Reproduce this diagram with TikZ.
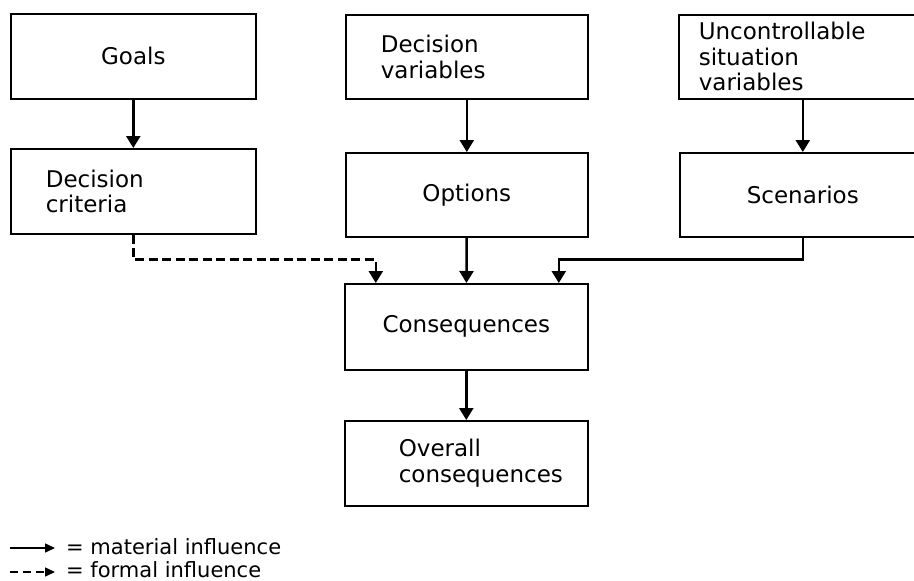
\documentclass[tikz,border=0pt]{standalone}
\usepackage{fontspec}
\setmainfont{DejaVu Sans}
\usetikzlibrary{arrows.meta}
\begin{document}
\begin{tikzpicture}[x=1pt,y=-1pt,
  box/.style={draw, line width=1.6pt, rectangle, inner sep=0pt,
    anchor=north west, font=\fontsize{23}{25.5}\selectfont},
  lbox/.style={box, align=left, text width=#1},
  flow/.style={line width=2.5pt, -{Triangle[width=14pt,length=12pt]}},
  formal/.style={flow, dash pattern=on 9pt off 4.5pt},
  keyline/.style={line width=1.6pt, -{Triangle[width=9pt,length=10pt]}},
  keytext/.style={anchor=base west, inner sep=0pt, font=\fontsize{21}{23}\selectfont}]
\fill[white] (0,0) rectangle (914,581);
\useasboundingbox (0,0) rectangle (914,581);
\clip (0,0) rectangle (914,581);

% top row
\node[box, minimum width=245pt, minimum height=85pt] (goals) at (10,13) {Goals};
\node[lbox=242pt, minimum height=84pt] (dvar) at (345,14)
  {\hspace*{35pt}Decision\\\hspace*{35pt}variables};
\node[lbox=248pt, minimum height=84pt] (unc) at (678,14)
  {\hspace*{20pt}Uncontrollable\\\hspace*{20pt}situation\\\hspace*{20pt}variables};

% second row
\node[lbox=245pt, minimum height=85pt] (crit) at (10,148)
  {\hspace*{35pt}Decision\\\hspace*{35pt}criteria};
\node[box, minimum width=242pt, minimum height=84pt] (opt) at (345,152) {Options};
\node[box, minimum width=246pt, minimum height=84pt] (scen) at (679,152) {Scenarios};

% lower column
\node[box, minimum width=243pt, minimum height=86pt] (cons) at (344,283) {Consequences};
\node[lbox=243pt, minimum height=85pt] (over) at (344,420)
  {\hspace*{54pt}Overall\\\hspace*{54pt}consequences};

% connectors
\draw[flow] (goals) -- (crit);
\draw[flow] (dvar) -- (opt);
\draw[flow] (unc) -- (scen);
\draw[flow] (opt) -- (cons);
\draw[flow] (scen.south) -- ++(0,22) -| ([xshift=92.5pt]cons.north);
\draw[formal] (crit.south) -- ++(0,25) -| ([xshift=-90.5pt]cons.north);
\draw[flow] (cons) -- (over);

% key
\coordinate (ka) at (10,548);
\coordinate (kb) at (55,548);
\coordinate (kc) at (10,572);
\coordinate (kd) at (55,572);
\draw[keyline] (ka) -- (kb);
\draw[keyline, dash pattern=on 8pt off 5pt] (kc) -- (kd);
\node[keytext] (km) at (66,554) {= material influence};
\node[keytext] (kf) at (66,577) {= formal influence};
\end{tikzpicture}
\end{document}
